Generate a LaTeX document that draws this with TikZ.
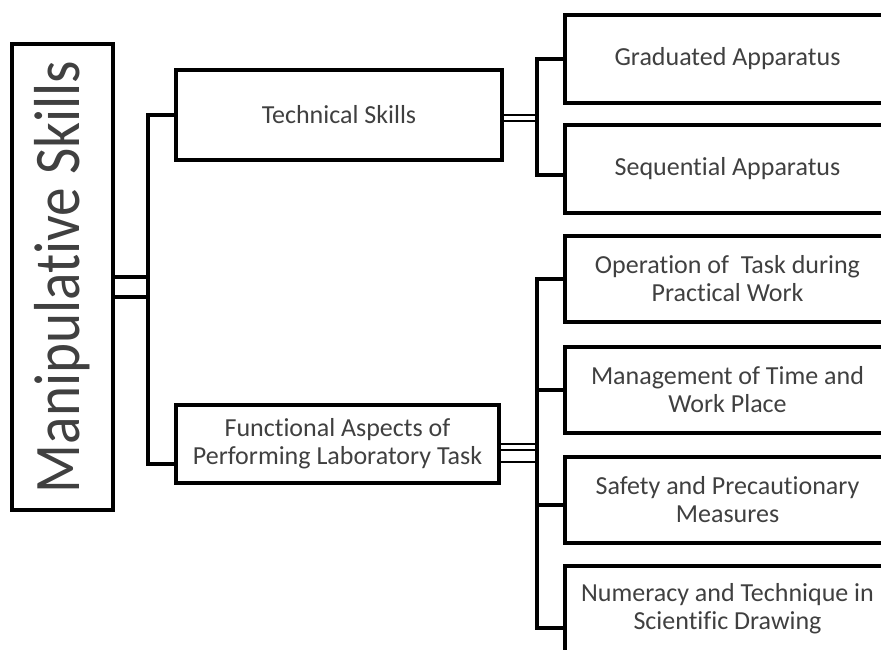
\documentclass[tikz,border=0pt]{standalone}
\usepackage{fontspec}
\setmainfont{Carlito}[Ligatures=NoCommon]
\usepackage{graphicx}
\tikzset{
  box/.style={draw, line width=3.5pt, inner sep=0pt, align=center,
    font=\fontsize{26}{28}\selectfont, text=black!75},
  leafbox/.style={box, minimum width=325pt, minimum height=86pt},
  link/.style={line width=3.5pt, line join=miter},
  thinlink/.style={line width=2.5pt},
}
\begin{document}
\begin{tikzpicture}[x=1pt,y=-1pt]
\useasboundingbox (0,0) rectangle (881,650);
\clip (0,0) rectangle (881,650);
\node[box, minimum width=101pt, minimum height=466pt, font=\fontsize{65}{70}\selectfont] (main) at (62.5,277) {\rotatebox{90}{\scalebox{0.88}[1]{Manipulative Skills}}};
\node[box, minimum width=326pt, minimum height=90pt] (tech) at (339,115) {Technical Skills};
\node[box, minimum width=323pt, minimum height=78pt] (func) at (337.5,444) {Functional Aspects of\\Performing Laboratory Task};
\node[leafbox, minimum height=88pt] (grad) at (727.5,59) {Graduated Apparatus};
\node[leafbox, minimum height=88pt] (seq) at (727.5,169) {Sequential Apparatus};
\node[leafbox] (oper) at (727.5,279) {Operation of~ Task during\\Practical Work};
\node[leafbox] (mgmt) at (727.5,390) {Management of Time and\\Work Place};
\node[leafbox] (safe) at (727.5,500) {Safety and Precautionary\\Measures};
\node[leafbox] (numer) at (727.5,609) {Numeracy and Technique in\\Scientific Drawing};
\coordinate (lb) at (148,277);
\coordinate (rb1) at (537,115);
\coordinate (rb2) at (537,444);
\draw[link] (main.east) -- (lb);
\draw[link] ([yshift=-20pt]main.east) -- ([yshift=-20pt]lb);
\draw[link] (tech.west) -| (lb) |- ([yshift=-20pt]func.west);
\draw[thinlink] (tech.east) -- (rb1);
\draw[thinlink] ([yshift=-6pt]tech.east) -- ([yshift=-6pt]rb1);
\draw[link] (grad.west) -| (rb1) |- ([yshift=-6pt]seq.west);
\draw[thinlink] (func.east) -- (rb2);
\draw[thinlink] ([yshift=-6pt]func.east) -- ([yshift=-6pt]rb2);
\draw[thinlink] ([yshift=-18pt]func.east) -- ([yshift=-18pt]rb2);
\draw[link] (oper.west) -| (rb2) |- ([yshift=-19pt]numer.west);
\draw[link] (mgmt.west) -- (mgmt.west -| rb2);
\draw[link] ([yshift=-5pt]safe.west) -- ([yshift=-5pt]safe.west -| rb2);
\end{tikzpicture}
\end{document}
